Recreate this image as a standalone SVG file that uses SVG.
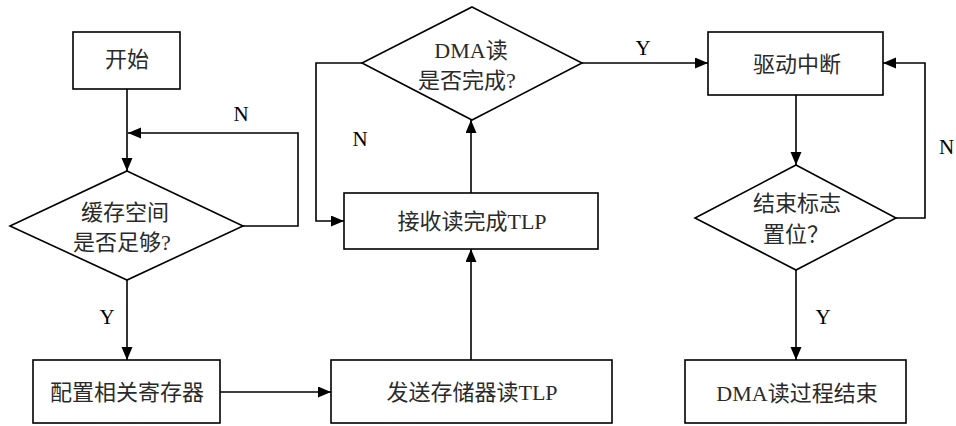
<svg xmlns="http://www.w3.org/2000/svg" width="956" height="426" viewBox="0 0 956 426">
<style>
.box{fill:#fff;stroke:#000;stroke-width:1.6}
.t{font-family:"Liberation Serif","Noto Sans CJK SC",serif;font-size:22px;fill:#2a2a2a;text-anchor:middle}
.lb{font-family:"Liberation Serif",serif;font-size:21px;fill:#000;text-anchor:middle}
.c{fill:none;stroke:#000;stroke-width:1.6}
</style>
<defs>
<marker id="ah" markerUnits="userSpaceOnUse" markerWidth="14" markerHeight="12" refX="13" refY="5.5" orient="auto">
<path d="M0,0 L13,5.5 L0,11 z" fill="#000"/>
</marker>
</defs>
<rect width="956" height="426" fill="#fff"/>
<g id="connectors">
<path class="c" d="M127,89 V171" marker-end="url(#ah)"/>
<path class="c" d="M243,226 H298 V133 H128" marker-end="url(#ah)"/>
<path class="c" d="M127,280 V360" marker-end="url(#ah)"/>
<path class="c" d="M220,392 H331" marker-end="url(#ah)"/>
<path class="c" d="M471,360 V249" marker-end="url(#ah)"/>
<path class="c" d="M471,193 V120" marker-end="url(#ah)"/>
<path class="c" d="M362,63 H316 V221 H344" marker-end="url(#ah)"/>
<path class="c" d="M582,63 H708" marker-end="url(#ah)"/>
<path class="c" d="M796,95 V165" marker-end="url(#ah)"/>
<path class="c" d="M896,218 H925 V63 H883" marker-end="url(#ah)"/>
<path class="c" d="M796,270 V360" marker-end="url(#ah)"/>
<text class="lb" x="241" y="121">N</text>
<text class="lb" x="107" y="324">Y</text>
<text class="lb" x="360" y="146">N</text>
<text class="lb" x="643" y="55">Y</text>
<text class="lb" x="939" y="154" style="text-anchor:start">N</text>
<text class="lb" x="823" y="324">Y</text>
</g>
<g id="start">
<rect class="box" x="73" y="32" width="107" height="57"/>
<text class="t" x="127" y="67">开始</text>
</g>
<g id="check-buffer">
<polygon class="box" points="127,171 243,226 127,280 10,226"/>
<text class="t" x="125" y="220">缓存空间</text>
<text class="t" x="122" y="250">是否足够?</text>
</g>
<g id="config-regs">
<rect class="box" x="33" y="360" width="187" height="63"/>
<text class="t" x="127" y="400">配置相关寄存器</text>
</g>
<g id="send-tlp">
<rect class="box" x="331" y="360" width="281" height="63"/>
<text class="t" x="472" y="400">发送存储器读TLP</text>
</g>
<g id="recv-tlp">
<rect class="box" x="344" y="193" width="254" height="56"/>
<text class="t" x="472" y="229">接收读完成TLP</text>
</g>
<g id="dma-done">
<polygon class="box" points="472,7 582,63 472,120 362,63"/>
<text class="t" x="471" y="58">DMA读</text>
<text class="t" x="467" y="88">是否完成?</text>
</g>
<g id="irq">
<rect class="box" x="708" y="32" width="175" height="63"/>
<text class="t" x="797" y="72">驱动中断</text>
</g>
<g id="end-flag">
<polygon class="box" points="796,165 896,218 796,270 695,218"/>
<text class="t" x="797" y="211">结束标志</text>
<text class="t" x="796" y="242">置位？</text>
</g>
<g id="end">
<rect class="box" x="685" y="360" width="221" height="63"/>
<text class="t" x="797" y="401">DMA读过程结束</text>
</g>
</svg>
